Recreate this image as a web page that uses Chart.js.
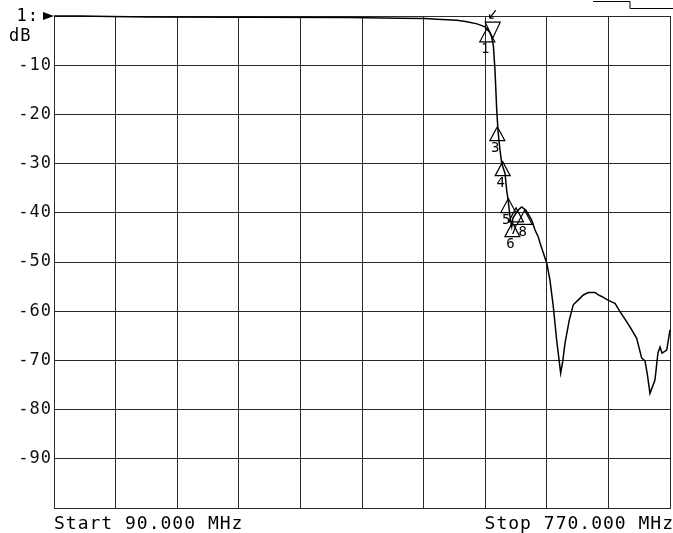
<!DOCTYPE html>
<html><head><meta charset="utf-8">
<script src="https://cdn.jsdelivr.net/npm/chart.js@4/dist/chart.umd.min.js"></script>
<style>html,body{margin:0;padding:0;background:#fff;} #wrap{width:673px;height:533px;}</style>
</head><body><div id="wrap"><canvas id="c" width="673" height="533"></canvas></div>
<script>
const freqMHz = [90,118.7,151.8,196,306,416.7,472,499.5,512.8,534.9,545.9,557,565.8,568.3,571,573,575,576.8,578.7,580.2,582.3,584.2,587.9,589.7,591.5,593.4,595.3,596.7,602.6,606.3,611,617.3,621,624.6,626.5,632,633.9,637.5,641.2,644.9,649.3,651.5,654.1,658.8,663.2,668.8,674.3,679.8,687.2,690.9,694.6,700.1,705.6,709.3,714.8,720.3,725.8,733.2,738.7,742.4,745.1,747.9,753.4,756.7,759,761.2,766.4,770];
const gainDb = [0,0,-0.1,-0.2,-0.25,-0.3,-0.45,-0.5,-0.65,-0.85,-1.15,-1.6,-2.2,-2.8,-3.3,-4.2,-6,-11,-19,-23.5,-27.2,-29.9,-32,-35.4,-37.7,-40.8,-42.8,-41,-39.4,-38.8,-39.5,-41.5,-43.5,-44.9,-46.1,-49.2,-50.2,-53.7,-59.1,-65.9,-72.6,-70.3,-66.5,-61.8,-58.7,-57.7,-56.7,-56.2,-56.2,-56.7,-57.0,-57.6,-58.1,-58.4,-60.1,-61.6,-63.2,-65.5,-69.5,-70.1,-73,-76.7,-74,-68.5,-67.3,-68.5,-67.9,-63.8];

const markerFreq = [568.3,579.4,585.3,591.5,596.0,600.0,609.5];
const markerDb = [-2.4,-22.5,-29.6,-37.1,-42.0,-39.0,-39.5];
const markerLabels = ['1','3','4','5','6','7','8'];
const activeMarkerFreq = [574.3];
const activeMarkerDb = [-4.5];

const xGrid = [90,158,226,294,362,430,498,566,634,702,770];
const yGrid = [-100,-90,-80,-70,-60,-50,-40,-30,-20,-10,0];
const yTickLabels = ['', '-90','-80','-70','-60','-50','-40','-30','-20','-10',''];
const refLabel = '1:';
const unitLabel = 'dB';
const refLevelDb = 0;
const startLabel = 'Start 90.000 MHz';
const stopLabel = 'Stop 770.000 MHz';

const FONT = '"DejaVu Sans Mono", "Liberation Mono", monospace';

const deco = {
  id: 'deco',
  beforeDraw(chart) { chart.ctx.letterSpacing = '1px'; },
  afterDatasetsDraw(chart) {
    const {ctx, scales: {x, y}, chartArea: a} = chart;
    ctx.save();
    ctx.strokeStyle = '#000'; ctx.fillStyle = '#000'; ctx.lineWidth = 1.2;
    ctx.letterSpacing = '0px';
    // markers (up triangles, apex on trace)
    markerFreq.forEach((f, i) => {
      const px = x.getPixelForValue(f), py = y.getPixelForValue(markerDb[i]);
      ctx.beginPath();
      ctx.moveTo(px, py); ctx.lineTo(px - 7.5, py + 14); ctx.lineTo(px + 7.5, py + 14); ctx.closePath();
      ctx.stroke();
      ctx.font = '14px ' + FONT; ctx.textAlign = 'center'; ctx.textBaseline = 'top';
      ctx.fillText(markerLabels[i], px - 2, py + 15);
    });
    // active marker (down triangle)
    activeMarkerFreq.forEach((f, i) => {
      const px = x.getPixelForValue(f), py = y.getPixelForValue(activeMarkerDb[i]);
      ctx.beginPath();
      ctx.moveTo(px, py); ctx.lineTo(px - 7.5, py - 16); ctx.lineTo(px + 7.5, py - 16); ctx.closePath();
      ctx.stroke();
      const ax = px + 2, ay = py - 20;
      ctx.beginPath();
      ctx.moveTo(ax + 1, ay - 8); ctx.lineTo(ax - 5, ay);
      ctx.moveTo(ax - 5, ay); ctx.lineTo(ax - 5, ay - 4);
      ctx.moveTo(ax - 5, ay); ctx.lineTo(ax - 1, ay);
      ctx.stroke();
    });
    // reference level arrow
    const ry = y.getPixelForValue(refLevelDb);
    ctx.beginPath();
    ctx.moveTo(a.left, ry); ctx.lineTo(a.left - 11, ry - 4); ctx.lineTo(a.left - 11, ry + 4); ctx.closePath();
    ctx.fill();
    ctx.letterSpacing = '1px';
    ctx.font = '17px ' + FONT; ctx.textAlign = 'right'; ctx.textBaseline = 'middle';
    ctx.fillText(refLabel, a.left - 15, ry + 1);
    ctx.textAlign = 'left';
    ctx.fillText(unitLabel, 9, ry + 21);
    // start/stop
    ctx.font = '18px ' + FONT; ctx.textBaseline = 'middle';
    ctx.textAlign = 'left';
    ctx.fillText(startLabel, x.getPixelForValue(xGrid[0]), a.bottom + 16);
    ctx.textAlign = 'right';
    ctx.fillText(stopLabel, x.getPixelForValue(xGrid[xGrid.length - 1]) + 4, a.bottom + 16);
    // top-right fragment
    ctx.lineWidth = 1;
    ctx.beginPath();
    ctx.moveTo(a.right - 77, 1.5); ctx.lineTo(a.right - 40, 1.5);
    ctx.lineTo(a.right - 40, 8.5); ctx.lineTo(a.right + 4, 8.5);
    ctx.stroke();
    ctx.restore();
  }
};

new Chart(document.getElementById('c'), {
  type: 'line',
  data: {
    datasets: [{
      data: freqMHz.map((f, i) => ({x: f, y: gainDb[i]})),
      borderColor: '#000', borderWidth: 1.5, pointRadius: 0, tension: 0, fill: false, clip: 6
    }]
  },
  options: {
    responsive: false, animation: false, devicePixelRatio: 1,
    layout: {padding: {left: 0, top: 16, right: 3, bottom: 0}},
    plugins: {legend: {display: false}, tooltip: {enabled: false}},
    scales: {
      x: {
        type: 'linear', min: 90, max: 770,
        afterBuildTicks: s => { s.ticks = xGrid.map(v => ({value: v})); },
        afterFit: s => { s.height = 25; },
        ticks: {display: false},
        grid: {color: '#2a2a2a', lineWidth: 1, drawTicks: false},
        border: {color: '#2a2a2a', width: 1}
      },
      y: {
        type: 'linear', min: -100, max: 0,
        afterBuildTicks: s => { s.ticks = yGrid.map(v => ({value: v})); },
        afterFit: s => { s.width = 54; },
        ticks: {
          padding: 2, color: '#111', font: {family: FONT, size: 17},
          callback: (v) => yTickLabels[yGrid.indexOf(v)]
        },
        grid: {color: '#2a2a2a', lineWidth: 1, drawTicks: false},
        border: {color: '#2a2a2a', width: 1}
      }
    }
  },
  plugins: [deco]
});
</script></body></html>
